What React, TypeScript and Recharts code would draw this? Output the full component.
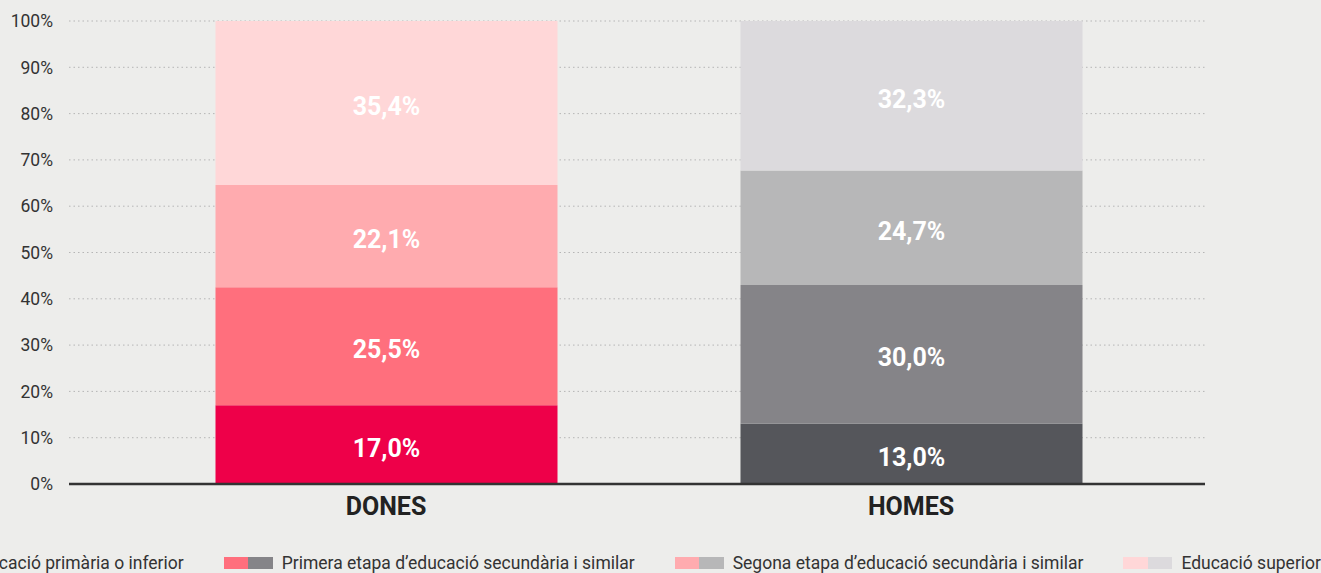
import { BarChart, Bar, XAxis, YAxis, CartesianGrid, Cell, LabelList } from 'recharts';

const categories = ['DONES', 'HOMES'];
const levels = [
  'Educació primària o inferior',
  'Primera etapa d’educació secundària i similar',
  'Segona etapa d’educació secundària i similar',
  'Educació superior',
];
const donesValues = [17.0, 25.5, 22.1, 35.4];
const homesValues = [13.0, 30.0, 24.7, 32.3];
const donesColors = ['#ee0049', '#ff6f7d', '#ffabaf', '#ffd7d8'];
const homesColors = ['#55565b', '#858488', '#b7b7b8', '#dcdadd'];
const yTicks = [0, 10, 20, 30, 40, 50, 60, 70, 80, 90, 100];

const seriesValues = [donesValues, homesValues];
const seriesColors = [donesColors, homesColors];

const data = categories.map((name, i) => {
  const row: Record<string, string | number> = { name };
  levels.forEach((_, k) => {
    row[`l${k}`] = seriesValues[i][k];
  });
  return row;
});

const fmt = (v: number) => `${v.toFixed(1).replace('.', ',')}%`;
const font = 'Roboto, "DejaVu Sans", sans-serif';

export default function App() {
  return (
    <div style={{ position: 'absolute', left: 0, top: 0, width: 1321, height: 573, background: '#ededeb', overflow: 'hidden', fontFamily: font }}>
      <BarChart width={1321} height={573} data={data} margin={{ top: 21, right: 116, bottom: 49, left: 0 }}>
        <CartesianGrid vertical={false} stroke="#b5b5b5" strokeDasharray="1.5 3" />
        <XAxis
          dataKey="name"
          padding={{ left: 54.5, right: 31.5 }}
          tickLine={false}
          tickSize={0}
          tickMargin={13}
          height={40}
          axisLine={{ stroke: '#333', strokeWidth: 2.5 }}
          tick={{ fill: '#222', fontSize: 25, fontWeight: 700, fontFamily: font }}
        />
        <YAxis
          domain={[0, 100]}
          ticks={yTicks}
          width={69}
          axisLine={false}
          tickLine={false}
          tickSize={0}
          tickMargin={16}
          tickFormatter={(v: number) => `${v}%`}
          tick={{ fill: '#333', fontSize: 17.5, fontFamily: font }}
        />
        {levels.map((lvl, k) => (
          <Bar key={lvl} dataKey={`l${k}`} stackId="a" barSize={342} isAnimationActive={false}>
            {categories.map((c, i) => (
              <Cell key={c} fill={seriesColors[i][k]} />
            ))}
            <LabelList
              dataKey={`l${k}`}
              position="center"
              dy={3}
              formatter={(v: number) => fmt(v)}
              style={{ fill: '#fff', fontSize: 25, fontWeight: 700, fontFamily: font }}
            />
          </Bar>
        ))}
      </BarChart>
      <div style={{ position: 'absolute', right: 0, top: 551, height: 24, display: 'flex', alignItems: 'center', whiteSpace: 'nowrap', fontSize: 17.5, color: '#333' }}>
        {levels.map((lvl, k) => (
          <div key={lvl} style={{ display: 'flex', alignItems: 'center', marginRight: k < levels.length - 1 ? 40 : 0 }}>
            <span style={{ display: 'inline-block', width: 24.5, height: 12, background: donesColors[k] }} />
            <span style={{ display: 'inline-block', width: 24.5, height: 12, background: homesColors[k], marginRight: 9 }} />
            <span>{lvl}</span>
          </div>
        ))}
      </div>
    </div>
  );
}
